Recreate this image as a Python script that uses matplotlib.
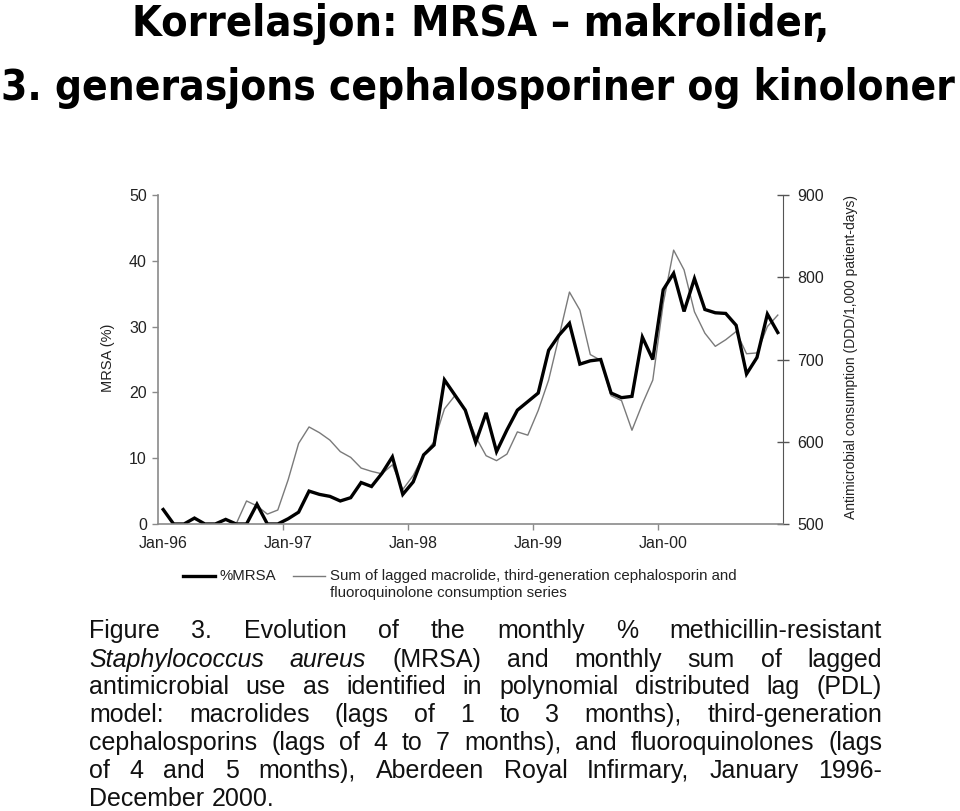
import matplotlib
matplotlib.use("Agg")
import matplotlib.pyplot as plt
from matplotlib import font_manager as fm
from matplotlib.lines import Line2D
import numpy as np

# monthly series, Jan 1996 - Dec 2000 (60 months)
months = np.arange(60)
mrsa_pct = [2.2, 0, 0, 0.9, 0, 0, 0.7, 0, 0, 3.0, 0, 0,
            0.8, 1.8, 5.0, 4.5, 4.2, 3.5, 4.0, 6.3, 5.7, 7.7, 10.2, 4.5,
            6.4, 10.5, 12.0, 21.9, 19.6, 17.3, 12.4, 16.9, 11.0, 14.3, 17.3, 18.6,
            19.9, 26.4, 28.7, 30.5, 24.3, 24.8, 25.0, 19.9, 19.2, 19.4, 28.4, 25.0,
            35.6, 38.1, 32.3, 37.3, 32.6, 32.1, 32.0, 30.2, 22.8, 25.3, 31.9, 29.1]
# lagged consumption sum (DDD/1,000 patient-days); lags up to 7 months -> first months missing
consumption = [np.nan] * 7 + [
    500, 528, 522, 512, 517,
    554, 598, 618, 611, 602, 588, 581, 568, 564, 561, 572, 542,
    559, 584, 600, 640, 656, 638, 606, 583, 577, 585, 612, 608,
    638, 675, 728, 782, 760, 706, 699, 656, 650, 614, 646, 675,
    768, 833, 809, 758, 732, 716, 724, 734, 707, 708, 740, 754]

year_ticks = [0, 12, 24, 36, 48]
year_labels = ["Jan-96", "Jan-97", "Jan-98", "Jan-99", "Jan-00"]
mrsa_ticks = [0, 10, 20, 30, 40, 50]
cons_ticks = [500, 600, 700, 800, 900]

title_lines = ["Korrelasjon: MRSA \u2013 makrolider,",
               "3. generasjons cephalosporiner og kinoloner"]
caption = [
    [("Figure", 0), ("3.", 0), ("Evolution", 0), ("of", 0), ("the", 0), ("monthly", 0), ("%", 0),
     ("methicillin-resistant", 0)],
    [("Staphylococcus", 1), ("aureus", 1), ("(MRSA)", 0), ("and", 0), ("monthly", 0), ("sum", 0),
     ("of", 0), ("lagged", 0)],
    [(w, 0) for w in "antimicrobial use as identified in polynomial distributed lag (PDL)".split()],
    [(w, 0) for w in "model: macrolides (lags of 1 to 3 months), third-generation".split()],
    [(w, 0) for w in "cephalosporins (lags of 4 to 7 months), and fluoroquinolones (lags".split()],
    [(w, 0) for w in "of 4 and 5 months), Aberdeen Royal Infirmary, January 1996-".split()],
    [(w, 0) for w in "December 2000.".split()],
]

W, H = 960, 811
SANS = ["Liberation Sans", "DejaVu Sans"]
plt.rcParams["font.family"] = SANS


def narrow_bold():
    # a condensed bold face if one is installed, else plain bold Liberation Sans
    for f in fm.fontManager.ttflist:
        if f.name == "Liberation Sans Narrow" and f.weight in (700, "bold"):
            return fm.FontProperties(fname=f.fname)
    for f in fm.fontManager.ttflist:
        if f.name == "DejaVu Sans" and f.stretch in ("condensed", 375) and f.weight in (700, "bold"):
            return fm.FontProperties(fname=f.fname)
    return fm.FontProperties(family="Liberation Sans", weight="bold")


fig = plt.figure(figsize=(W / 100, H / 100), dpi=100)
fig.patch.set_facecolor("white")


def fx(px):
    return px / W


def fy(py):
    return 1 - py / H


ax = fig.add_axes([fx(158), fy(524), fx(783) - fx(158), fy(195) - fy(524)])
ax2 = ax.twinx()
ax.set_zorder(ax2.get_zorder() + 1)
ax.patch.set_visible(False)

ax.plot(months, mrsa_pct, color="black", lw=2.4, solid_joinstyle="miter")
ax2.plot(months, consumption, color="#7a7a7a", lw=1.0)

ax.set_xlim(-0.5, 59.5)
ax.set_ylim(0, 50)
ax2.set_ylim(500, 900)

ax.set_xticks(year_ticks)
ax.set_xticklabels(year_labels)
ax.set_xticks([t - 0.5 for t in year_ticks[1:]], minor=True)
ax.tick_params(axis="x", which="major", length=0, pad=9, labelsize=11.5, labelcolor="#222222")
ax.tick_params(axis="x", which="minor", length=4, width=1, color="#8a8a8a", direction="out")
ax.set_yticks(mrsa_ticks)
ax.tick_params(axis="y", length=4, width=1, color="#8a8a8a", direction="out", pad=4,
               labelsize=11.5, labelcolor="#222222")
ax2.set_yticks(cons_ticks)
ax2.tick_params(axis="y", length=8, width=1, color="#555555", direction="inout", pad=6,
                labelsize=11.5, labelcolor="#222222")

for s in ["top", "right"]:
    ax.spines[s].set_visible(False)
for s in ["top", "left", "bottom"]:
    ax2.spines[s].set_visible(False)
ax.spines["left"].set_color("#8a8a8a")
ax.spines["bottom"].set_color("#8a8a8a")
ax.spines["left"].set_linewidth(1.2)
ax.spines["bottom"].set_linewidth(1.2)
ax2.spines["right"].set_color("#555555")

fig.text(fx(108), fy(358), "MRSA (%)", rotation=90, ha="center", va="center",
         fontsize=10.5, color="#222222")
fig.text(fx(851), fy(357), "Antimicrobial consumption (DDD/1,000 patient-days)", rotation=90,
         ha="center", va="center", fontsize=10, color="#222222")

# legend below the plot
fig.add_artist(Line2D([fx(183), fx(215)], [fy(576), fy(576)], color="black", lw=2.4))
fig.text(fx(220), fy(576), "%MRSA", ha="left", va="center", fontsize=10.8, color="#222222")
fig.add_artist(Line2D([fx(293), fx(325)], [fy(576), fy(576)], color="#7a7a7a", lw=1.0))
fig.text(fx(330), fy(576), "Sum of lagged macrolide, third-generation cephalosporin and",
         ha="left", va="center", fontsize=10.8, color="#222222")
fig.text(fx(330), fy(593), "fluoroquinolone consumption series",
         ha="left", va="center", fontsize=10.8, color="#222222")

renderer = fig.canvas.get_renderer()

# title, sized to the width of the reference lines
tprop = narrow_bold()
title_spec = [(481, 36, 697), (478, 100, 955)]
for line, (cx, base, width) in zip(title_lines, title_spec):
    t = fig.text(fx(cx), fy(base), line, ha="center", va="baseline", fontproperties=tprop,
                 color="black")
    t.set_fontsize(36)
    w = t.get_window_extent(renderer).width
    t.set_fontsize(36 * width / w)

# justified caption
left, right = 89, 882
line_base = [638, 667, 694, 722, 750, 778, 806]
for k, (words, y) in enumerate(zip(caption, line_base)):
    objs = []
    for word, ital in words:
        objs.append(fig.text(0, fy(y), word, ha="left", va="baseline", fontsize=18,
                             style="italic" if ital else "normal", color="#111111"))
    widths = [o.get_window_extent(renderer).width for o in objs]
    if k == len(caption) - 1:
        gap = 8
    else:
        gap = (right - left - sum(widths)) / (len(objs) - 1)
    x = left
    for o, w in zip(objs, widths):
        o.set_x(fx(x))
        x += w + gap

fig.savefig("out.png", dpi=100, facecolor="white")
